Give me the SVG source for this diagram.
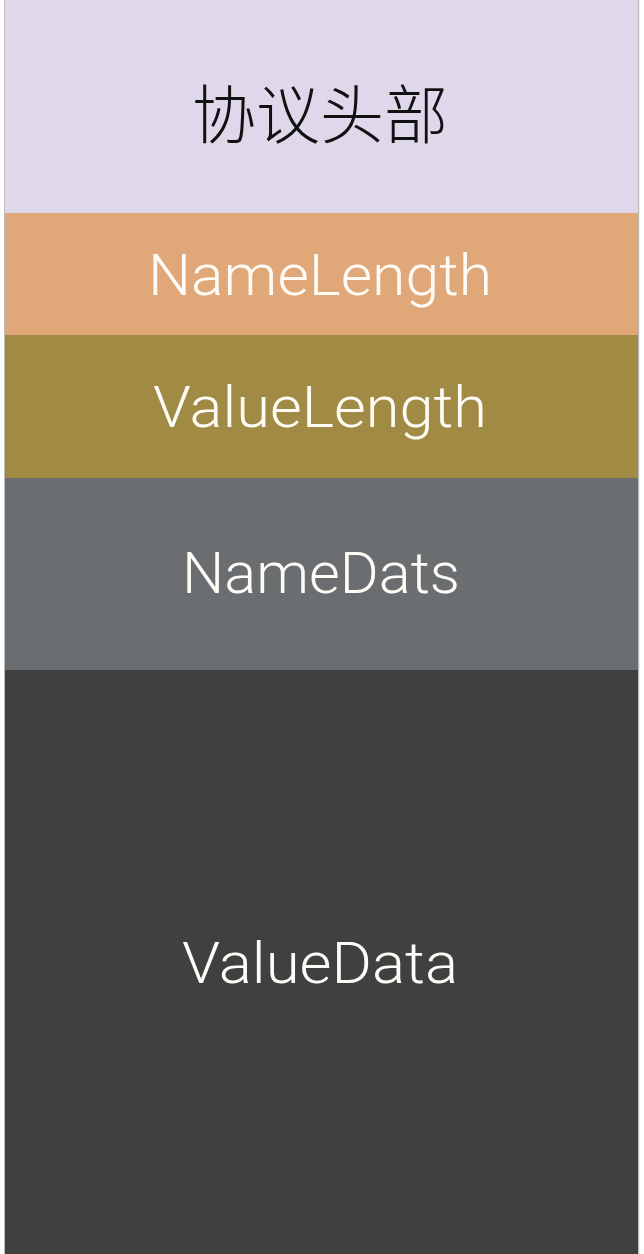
<svg xmlns="http://www.w3.org/2000/svg" width="644" height="1254" viewBox="0 0 644 1254">
<style>
.lbl{font-family:Roboto,"Liberation Sans","Noto Sans",Arial,sans-serif;font-weight:300;font-size:57px;fill:#FFFCF7;text-anchor:middle}
.cjk{font-family:"Noto Sans CJK SC","Noto Sans",sans-serif;font-weight:300;font-size:64px;fill:#111111;text-anchor:middle}
</style>
<rect x="0" y="0" width="644" height="1254" fill="#ffffff"/>
<line x1="4.5" y1="0" x2="4.5" y2="1254" stroke="#bdbdbd" stroke-width="1"/>
<line x1="638.5" y1="0" x2="638.5" y2="1254" stroke="#bdbdbd" stroke-width="1.5"/>
<g id="header">
<rect x="5" y="0" width="633" height="213" fill="#DFD8EA"/>
<text class="cjk" x="320" y="138">协议头部</text>
</g>
<g id="namelength">
<rect x="5" y="213" width="633" height="122" fill="#E0A878"/>
<text class="lbl" x="320" y="295" textLength="344" lengthAdjust="spacingAndGlyphs">NameLength</text>
</g>
<g id="valuelength">
<rect x="5" y="335" width="633" height="143" fill="#A08A44"/>
<text class="lbl" x="320" y="427" textLength="334" lengthAdjust="spacingAndGlyphs">ValueLength</text>
</g>
<g id="namedats">
<rect x="5" y="478" width="633" height="192" fill="#6A6E71"/>
<text class="lbl" x="321" y="593" textLength="278" lengthAdjust="spacingAndGlyphs">NameDats</text>
</g>
<g id="valuedata">
<rect x="5" y="670" width="633" height="584" fill="#404040"/>
<text class="lbl" x="320" y="983" textLength="276" lengthAdjust="spacingAndGlyphs">ValueData</text>
</g>
<g id="connectors"/>
</svg>
